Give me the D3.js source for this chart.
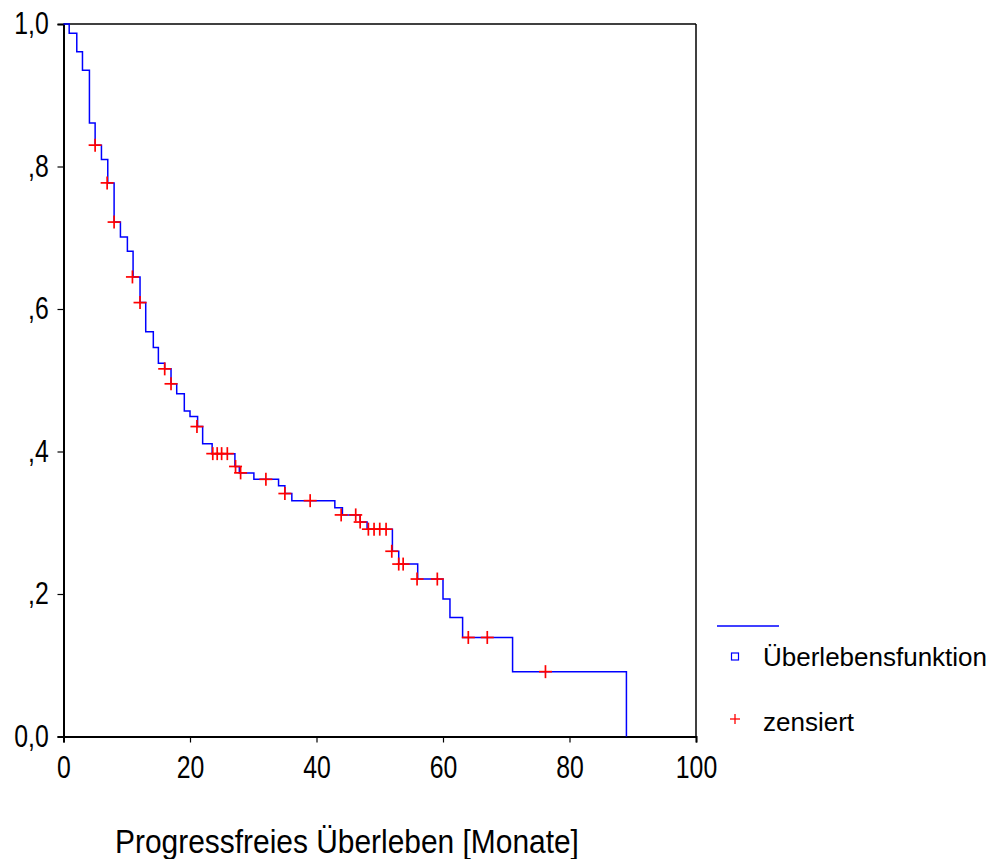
<!DOCTYPE html>
<html><head><meta charset="utf-8">
<script src="https://cdn.jsdelivr.net/npm/d3@7/dist/d3.min.js"></script>
<style>body{margin:0;background:#fff;} svg{display:block;font-family:Arial,"Liberation Sans",sans-serif;}</style>
</head><body>
<script>
// Survival step events: time (months) and survival after the step
const eventTimes = [0.9,2.1,3.0,4.1,5.0,6.0,7.0,8.0,9.0,10.1,11.0,12.1,13.0,14.2,15.0,16.0,17.0,17.9,19.1,20.0,21.2,22.0,23.5,27.1,27.8,30.1,34.0,35.0,36.1,42.9,44.1,46.9,48.0,52.0,53.0,56.0,60.0,61.1,63.1,71.0,89.0];
const eventSurv  = [0.987,0.961,0.935,0.861,0.830,0.810,0.777,0.722,0.701,0.681,0.645,0.609,0.568,0.546,0.524,0.516,0.495,0.481,0.457,0.449,0.435,0.411,0.397,0.379,0.370,0.361,0.352,0.341,0.331,0.321,0.311,0.301,0.291,0.260,0.242,0.221,0.193,0.167,0.139,0.091,0.0];
// Censored observations
const censTimes = [5.0,6.9,8.0,10.9,12.1,16.0,17.0,21.1,23.6,24.3,25.0,25.9,27.2,28.0,32.0,35.0,39.0,43.9,46.2,46.9,48.2,49.1,50.0,51.0,51.9,53.0,53.7,55.9,59.1,64.0,67.0,76.2];
const censSurv  = [0.830,0.777,0.722,0.645,0.609,0.516,0.495,0.435,0.397,0.397,0.397,0.397,0.379,0.370,0.361,0.341,0.331,0.311,0.311,0.301,0.291,0.291,0.291,0.291,0.260,0.242,0.242,0.221,0.221,0.139,0.139,0.091];
const xTicks = [0,20,40,60,80,100];
const yTicks = [0,0.2,0.4,0.6,0.8,1.0];
const yTickLabels = ["0,0",",2",",4",",6",",8","1,0"];
const xTitle = "Progressfreies Überleben [Monate]";
const legendLabels = ["Überlebensfunktion","zensiert"];

const W=997,H=859;
const svg=d3.select("body").append("svg").attr("width",W).attr("height",H);
const x=d3.scaleLinear().domain([0,100]).range([63.5,696]);
const y=d3.scaleLinear().domain([0,1]).range([736.5,24]);

// frame top/right
svg.append("line").attr("x1",x(0)).attr("x2",x(100)).attr("y1",y(1)).attr("y2",y(1)).attr("stroke","#000").attr("stroke-width",1.5);
svg.append("line").attr("x1",x(100)).attr("x2",x(100)).attr("y1",y(1)).attr("y2",y(0)).attr("stroke","#000").attr("stroke-width",1.5);

const xAxis=svg.append("g").attr("transform",`translate(0,${y(0)})`)
  .call(d3.axisBottom(x).tickValues(xTicks).tickSize(6).tickPadding(14).tickFormat(d3.format("d")));
const yAxis=svg.append("g").attr("transform",`translate(${x(0)},0)`)
  .call(d3.axisLeft(y).tickValues(yTicks).tickSize(6).tickPadding(12.5).tickFormat((d,i)=>yTickLabels[i]));
[xAxis,yAxis].forEach(g=>{
  g.select(".domain").attr("stroke","#000").attr("stroke-width",2);
  g.selectAll(".tick line").attr("stroke","#000").attr("stroke-width",1.2);
  g.selectAll("text").attr("font-size",31).attr("fill","#000").attr("font-family","Arial,'Liberation Sans',sans-serif")
    .attr("transform","scale(0.8,1)");
});
xAxis.selectAll("text").attr("dy","0.71em");

// step line
const pts=[[0,1]];
let prev=1;
eventTimes.forEach((t,i)=>{pts.push([t,prev]);pts.push([t,eventSurv[i]]);prev=eventSurv[i];});
svg.append("path").attr("d",d3.line().x(d=>x(d[0])).y(d=>y(d[1]))(pts))
  .attr("fill","none").attr("stroke","#0000ff").attr("stroke-width",1.5);

// censor marks
const cg=svg.append("g").attr("stroke","#ff0000").attr("stroke-width",1.7);
censTimes.forEach((t,i)=>{
  const cx=x(t),cy=y(censSurv[i]);
  cg.append("line").attr("x1",cx-6.5).attr("x2",cx+6.5).attr("y1",cy).attr("y2",cy);
  cg.append("line").attr("x1",cx).attr("x2",cx).attr("y1",cy-6.5).attr("y2",cy+6.5);
});

// x title
svg.append("text").attr("transform","translate(347,853) scale(0.88,1)").attr("text-anchor","middle")
  .attr("font-size",34).attr("fill","#000").text(xTitle);

// legend
svg.append("line").attr("x1",717).attr("x2",779).attr("y1",626).attr("y2",626).attr("stroke","#0000ff").attr("stroke-width",1.5);
svg.append("rect").attr("x",731.5).attr("y",653).attr("width",7).attr("height",7).attr("fill","none").attr("stroke","#0000ff").attr("stroke-width",1.2);
svg.append("text").attr("x",763).attr("y",666).attr("font-size",26).attr("fill","#000").text(legendLabels[0]);
const lg=svg.append("g").attr("stroke","#ff0000").attr("stroke-width",1.3);
lg.append("line").attr("x1",730).attr("x2",740).attr("y1",719).attr("y2",719);
lg.append("line").attr("x1",735).attr("x2",735).attr("y1",714).attr("y2",724);
svg.append("text").attr("x",763).attr("y",731).attr("font-size",26).attr("fill","#000").text(legendLabels[1]);
</script>
</body></html>
